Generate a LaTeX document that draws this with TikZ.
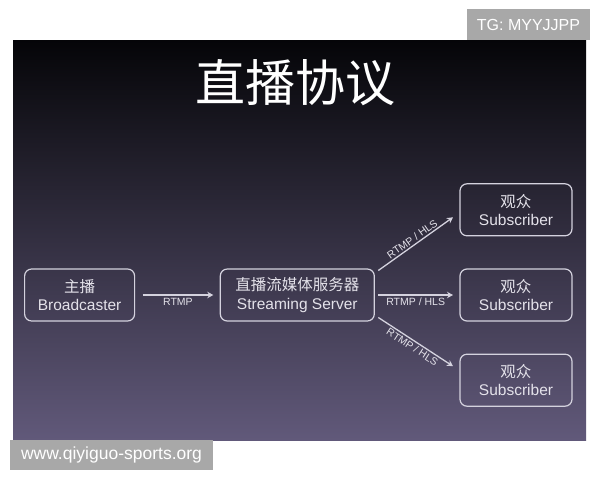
\documentclass[tikz,border=0pt]{standalone}
\usepackage{fontspec}
\setmainfont{Liberation Sans}
\newfontfamily\cjk{Noto Sans CJK SC}
\usetikzlibrary{arrows.meta}
\definecolor{slidetop}{RGB}{5,5,8}
\definecolor{slidemid}{RGB}{28,22,52}
\definecolor{slidebot}{RGB}{97,89,122}
\definecolor{boxline}{RGB}{212,210,222}
\definecolor{boxtext}{RGB}{228,226,234}
\definecolor{tagfill}{RGB}{168,168,168}
\tikzset{
    block/.style    = { rectangle, draw=boxline, line width=1.2pt,
	rounded corners=7pt, minimum height=52pt, inner sep=0pt,
	align=center, text=boxtext, font=\fontsize{15.5}{18.5}\selectfont },
	line/.style     = { draw=boxline, line width=1.3pt, -{Stealth[length=6pt,width=6.5pt]} },
	lbl/.style      = { text=boxtext, inner sep=1.5pt, font=\fontsize{10.5}{11}\selectfont },
	tag/.style      = { fill=tagfill, text=white, inner sep=0pt },
}

\begin{document}
\begin{tikzpicture}[x=1pt,y=-1pt]
				\useasboundingbox (0,0) rectangle (600,480);
				\shade[top color=slidetop, middle color=slidemid, bottom color=slidebot] (13,40) rectangle (586,440);
				\node (title) [text=white, font=\cjk\fontsize{50}{50}\selectfont] at (295,83) {直播协议};
				\matrix[ampersand replacement=\&, column sep = 84.5pt, row sep = 32pt, inner sep=0pt, outer sep=0pt, anchor=west] at (24,295) {
					\& \& \node (sub1) [block, minimum width=112pt] {{\cjk 观众}\\Subscriber}; \\
					\node (bc) [block, minimum width=110pt] {{\cjk 主播}\\Broadcaster}; \& \node (srv) [block, minimum width=154pt] {{\cjk 直播流媒体服务器}\\Streaming Server}; \&
					\node (sub2) [block, minimum width=112pt] {{\cjk 观众}\\Subscriber}; \\
					\& \& \node (sub3) [block, minimum width=112pt] {{\cjk 观众}\\Subscriber}; \\
				};
				\draw[line] ([xshift=8pt]bc.east) -- node[lbl, below=1pt] {RTMP} ([xshift=-7pt]srv.west);
				\draw[line] ([shift={(4pt,24.5pt)}]srv.east) -- node[lbl, sloped, above] {RTMP / HLS} ([shift={(-7pt,-7.5pt)}]sub1.west);
				\draw[line] ([xshift=4pt]srv.east) -- node[lbl, below=1pt] {RTMP / HLS} ([xshift=-7pt]sub2.west);
				\draw[line] ([shift={(4pt,-22.5pt)}]srv.east) -- node[lbl, sloped, below] {RTMP / HLS} ([shift={(-7pt,14pt)}]sub3.west);
				% watermarks
				\node (tg) [tag, minimum width=123pt, minimum height=31pt, font=\fontsize{16}{16}\selectfont] at (528.5,24.5) {TG: MYYJJPP};
				\node (web) [tag, minimum width=203pt, minimum height=30pt, font=\fontsize{17.5}{17.5}\selectfont] at (111.5,455) {www.qiyiguo-sports.org};
				\end{tikzpicture}
\end{document}
